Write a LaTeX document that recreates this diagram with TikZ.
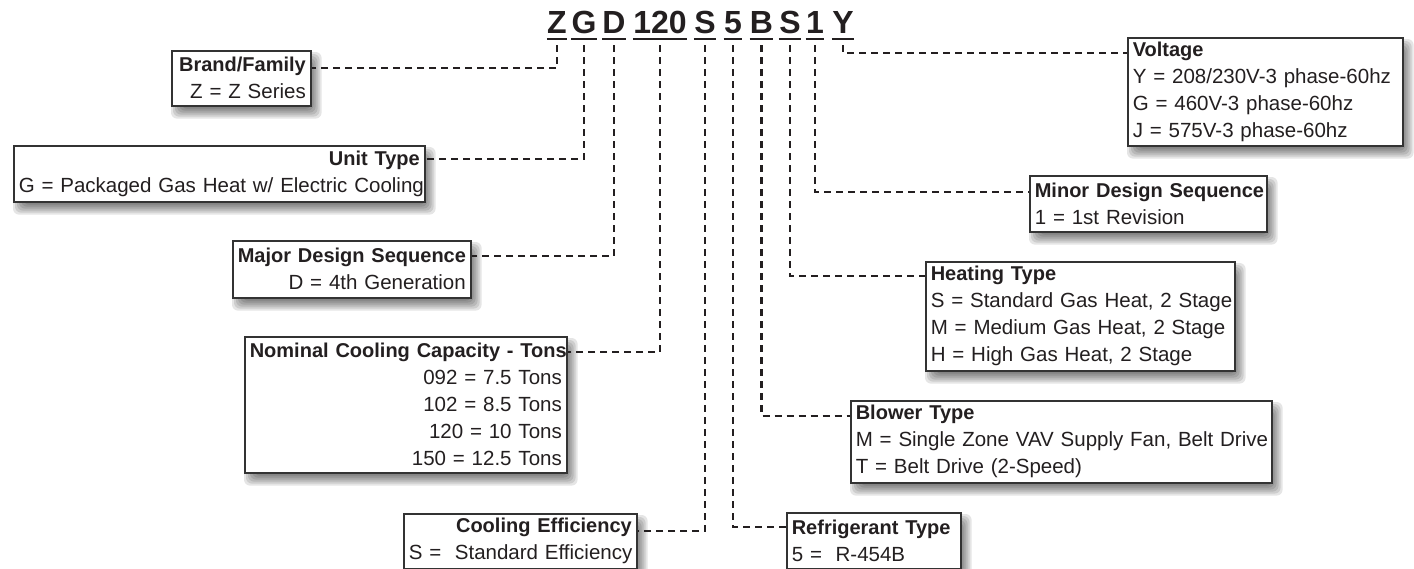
\documentclass[tikz,border=0pt]{standalone}
\usepackage{fontspec}
\setmainfont{Liberation Sans}
\usetikzlibrary{calc,backgrounds}
\definecolor{ink}{HTML}{231F20}
\definecolor{edge}{HTML}{333333}
\tikzset{
  code/.style={inner sep=0pt, anchor=base, text=ink,
    font={\fontsize{16pt}{18pt}\selectfont\bfseries}},
  ul/.style={line width=1.4pt, draw=ink},
  conn/.style={draw=ink, line width=1.1pt, dash pattern=on 3.5pt off 2.5pt},
  lbox/.style={draw=edge, line width=0.8pt, fill=white, anchor=north west,
    inner xsep=2.5pt, inner ysep=0pt, text=ink,
    font={\fontsize{10.25pt}{13.5pt}\selectfont}},
}
\newcommand\hd[1]{\mbox{\fontsize{10pt}{13.5pt}\selectfont\bfseries #1}}
\newcommand\tl[1]{\mbox{#1}}
\newcommand\boxshadow[1]{%
  \foreach \rr in {-5,-3,-1,1,3,5}{%
    \fill[black, opacity=0.1, rounded corners=3pt]
      ([shift={({5-(\rr)},{7-(\rr)})}]#1.north west) rectangle
      ([shift={({5+(\rr)},{7+(\rr)})}]#1.south east);
  }%
}
\begin{document}
\begin{tikzpicture}[x=0.5pt, y=-0.5pt]
\useasboundingbox (0,0) rectangle (1414,568);

% code letters
\node[code] (cZ) at (557,33) {Z};
\node[code] (cG) at (584,33) {G};
\node[code] (cD) at (614,33) {D};
\node[code] (cN) at (660,33) {120};
\node[code] (cS) at (705,33) {S};
\node[code] (c5) at (733,33) {5};
\node[code] (cB) at (761.5,33) {B};
\node[code] (cH) at (790,33) {S};
\node[code] (c1) at (815,33) {1};
\node[code] (cY) at (843,33) {Y};
\foreach \n in {cZ,cG,cD,cN,cS,c5,cB,cH,c1,cY}{
  \draw[ul] ([yshift=-3pt]\n.base west) -- ([yshift=-3pt]\n.base east);
}

% left boxes
\node[lbox, align=right, text width=64.5pt, minimum height=27.5pt] (brand) at (171,50)
  {\hd{Brand/Family}\\\tl{Z = Z Series}};
\node[lbox, align=right, text width=200.5pt, minimum height=28pt] (unit) at (13,145)
  {\hd{Unit Type}\\\tl{G = Packaged Gas Heat w/ Electric Cooling}};
\node[lbox, align=right, text width=114pt, minimum height=28.5pt] (major) at (232,240)
  {\hd{Major Design Sequence}\\\tl{D = 4th Generation}};
\node[lbox, align=right, text width=156pt, minimum height=68pt] (nominal) at (244,336)
  {\hd{Nominal Cooling Capacity - Tons}\\\tl{092 = 7.5 Tons}\\\tl{102 = 8.5 Tons}\\\tl{120 = 10 Tons}\\\tl{150 = 12.5 Tons}};
\node[lbox, align=right, text width=111.5pt, minimum height=27.5pt] (cooling) at (403,513)
  {\hd{Cooling Efficiency}\\\tl{S =\ \ Standard Efficiency}};

% right boxes
\node[lbox, align=left, text width=132.5pt, minimum height=54pt] (voltage) at (1127,37)
  {\hd{Voltage}\\\tl{Y = 208/230V-3 phase-60hz}\\\tl{G = 460V-3 phase-60hz}\\\tl{J = 575V-3 phase-60hz}};
\node[lbox, align=left, text width=113.5pt, minimum height=28pt] (minor) at (1029,175)
  {\hd{Minor Design Sequence}\\\tl{1 = 1st Revision}};
\node[lbox, align=left, text width=149.5pt, minimum height=54.5pt] (heating) at (925,261)
  {\hd{Heating Type}\\\tl{S = Standard Gas Heat, 2 Stage}\\\tl{M = Medium Gas Heat, 2 Stage}\\\tl{H = High Gas Heat, 2 Stage}};
\node[lbox, align=left, text width=205.5pt, minimum height=41pt] (blower) at (850,400)
  {\hd{Blower Type}\\\tl{M = Single Zone VAV Supply Fan, Belt Drive}\\\tl{T = Belt Drive (2-Speed)}};
\node[lbox, align=left, text width=82pt, minimum height=28pt] (refrig) at (786,512)
  {\hd{Refrigerant Type}\\\tl{5 =\ \ R-454B}};

% connectors
\draw[conn] ($(cZ.base)+(0,12)$) |- ([yshift=-9pt]brand.north east);
\draw[conn] ($(cG.base)+(0,12)$) |- ([yshift=-7pt]unit.north east);
\draw[conn] ($(cD.base)+(0,12)$) |- ([yshift=-8pt]major.north east);
\draw[conn] ($(cN.base)+(0,12)$) |- ([yshift=-8pt]nominal.north east);
\draw[conn] ($(cS.base)+(0,12)$) |- ([yshift=-9pt]cooling.north east);
\draw[conn] ($(c5.base)+(0,12)$) |- ([yshift=-7.5pt]refrig.north west);
\draw[conn] ($(cB.base)+(0,12)$) |- ([yshift=-8pt]blower.north west);
\draw[conn] ($(cH.base)+(0,12)$) |- ([yshift=-7.5pt]heating.north west);
\draw[conn] ($(c1.base)+(0,12)$) |- ([yshift=-8.5pt]minor.north west);
\draw[conn] ($(cY.base)+(0,12)$) |- ([yshift=-8pt]voltage.north west);

\begin{scope}[on background layer]
  \fill[white] (0,0) rectangle (1414,568);
  \foreach \b in {brand,unit,major,nominal,cooling,voltage,minor,heating,blower,refrig}{
    \boxshadow{\b}
  }
\end{scope}
\end{tikzpicture}
\end{document}
